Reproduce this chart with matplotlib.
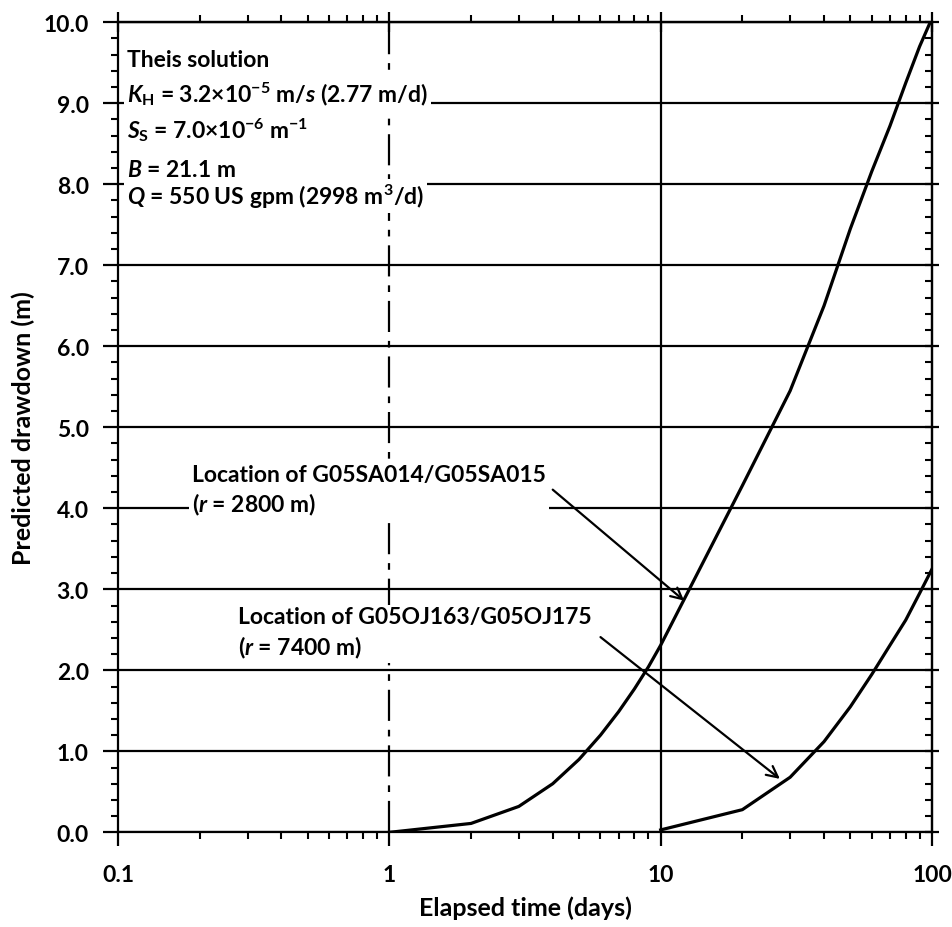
import numpy as np
import matplotlib
matplotlib.use("Agg")
import matplotlib.pyplot as plt
from matplotlib.ticker import LogLocator, MultipleLocator, FixedLocator, FuncFormatter, NullFormatter

# elapsed time (days) and predicted drawdown (m)
t_near = [1, 2, 3, 4, 5, 6, 7, 8, 9, 10, 20, 30, 40, 50, 60, 70, 80, 90, 100]
s_near = [0.00, 0.11, 0.32, 0.60, 0.90, 1.20, 1.49, 1.77, 2.04, 2.31,
          4.28, 5.45, 6.50, 7.45, 8.16, 8.72, 9.25, 9.70, 10.05]

t_far = [10, 20, 30, 40, 50, 60, 70, 80, 90, 100]
s_far = [0.03, 0.28, 0.68, 1.12, 1.55, 1.95, 2.31, 2.62, 2.95, 3.25]

x_ticks = [0.1, 1, 10, 100]
x_tick_labels = ["0.1", "1", "10", "100"]
y_ticks = [0, 1, 2, 3, 4, 5, 6, 7, 8, 9, 10]

params_text = [
    "Theis solution",
    r"$K_\mathrm{H}$ = 3.2×10$^{-5}$ m/$s$ (2.77 m/d)",
    r"$S_\mathrm{S}$ = 7.0×10$^{-6}$ m$^{-1}$",
    r"$B$ = 21.1 m",
    r"$Q$ = 550 US gpm (2998 m$^3$/d)",
]
params_y = [9.46, 9.02, 8.58, 8.10, 7.75]

label_near = "Location of G05SA014/G05SA015\n($r$ = 2800 m)"
label_far = "Location of G05OJ163/G05OJ175\n($r$ = 7400 m)"

plt.rcParams["font.family"] = ["Lato", "DejaVu Sans"]
plt.rcParams["font.weight"] = "bold"
plt.rcParams["mathtext.fontset"] = "custom"
plt.rcParams["mathtext.rm"] = "Lato:bold"
plt.rcParams["mathtext.it"] = "Lato:italic:bold"
plt.rcParams["mathtext.bf"] = "Lato:bold"

fig = plt.figure(figsize=(9.52, 9.28), dpi=100)
ax = fig.add_axes([0.124, 0.102, 0.855, 0.873])

ax.plot(t_near, s_near, color="black", lw=2.3, zorder=4)
ax.plot(t_far, s_far, color="black", lw=2.3, zorder=4)

ax.set_xscale("log")
ax.set_xlim(0.1, 100)
ax.set_ylim(0, 10)

ax.xaxis.set_major_locator(FixedLocator(x_ticks))
ax.set_xticklabels(x_tick_labels)
ax.xaxis.set_minor_locator(LogLocator(base=10, subs=np.arange(2, 10)))
ax.xaxis.set_minor_formatter(NullFormatter())
ax.yaxis.set_major_locator(FixedLocator(y_ticks))
ax.yaxis.set_minor_locator(MultipleLocator(0.2))
ax.yaxis.set_major_formatter(FuncFormatter(lambda v, p: "%.1f" % v))

ax.grid(axis="y", which="major", color="black", lw=1.6, zorder=1)
ax.axvline(1, color="black", lw=1.6, ls=(0, (14, 4, 3, 4)), zorder=1)
ax.axvline(10, color="black", lw=1.6, zorder=1)

for sp in ax.spines.values():
    sp.set_linewidth(1.6)

ax.tick_params(axis="y", which="major", direction="out", length=11, width=1.6,
               pad=10, labelsize=16.5)
ax.tick_params(axis="y", which="minor", direction="out", length=5, width=1.5)
ax.tick_params(axis="x", which="major", direction="out", length=10, width=1.6,
               pad=13, labelsize=16.5)
ax.tick_params(axis="x", which="minor", direction="out", length=5, width=1.5)

# ticks on the top and right edges
top = ax.secondary_xaxis("top")
top.xaxis.set_major_locator(FixedLocator(x_ticks))
top.xaxis.set_minor_locator(LogLocator(base=10, subs=np.arange(2, 10)))
top.xaxis.set_major_formatter(NullFormatter())
top.xaxis.set_minor_formatter(NullFormatter())
top.tick_params(which="major", direction="inout", length=14, width=1.6)
top.tick_params(which="minor", direction="out", length=5, width=1.5)
top.spines["top"].set_linewidth(1.6)

right = ax.secondary_yaxis("right")
right.yaxis.set_major_locator(FixedLocator(y_ticks))
right.yaxis.set_minor_locator(MultipleLocator(0.2))
right.yaxis.set_major_formatter(NullFormatter())
right.tick_params(which="major", direction="inout", length=10, width=1.6)
right.tick_params(which="minor", direction="in", length=5, width=1.5)
right.spines["right"].set_linewidth(1.6)

ax.set_xlabel("Elapsed time (days)", fontsize=18, fontweight="bold")
ax.set_ylabel("Predicted drawdown (m)", fontsize=18, fontweight="bold")
ax.xaxis.set_label_coords(0.5, -0.078)
ax.yaxis.set_label_coords(-0.102, 0.5)

box = dict(facecolor="white", edgecolor="none", pad=2)
for line, yv in zip(params_text, params_y):
    ax.text(0.108, yv, line, fontsize=16.5, ha="left", va="baseline",
            bbox=box, zorder=3)

# baseline given is that of the second line
ax.text(0.1875, 3.96, label_near, fontsize=16.5, ha="left", va="baseline",
        linespacing=1.3, bbox=box, zorder=3)
ax.text(0.277, 2.20, label_far, fontsize=16.5, ha="left", va="baseline",
        linespacing=1.3, bbox=box, zorder=3)

arrow = dict(arrowstyle="->", color="black", lw=1.6, shrinkA=0, shrinkB=0,
             mutation_scale=20)
ax.annotate("", xy=(12.2, 2.86), xytext=(4.0, 4.23), arrowprops=arrow, zorder=5)
ax.annotate("", xy=(27.5, 0.66), xytext=(6.0, 2.41), arrowprops=arrow, zorder=5)

fig.savefig("out.png", dpi=100)
